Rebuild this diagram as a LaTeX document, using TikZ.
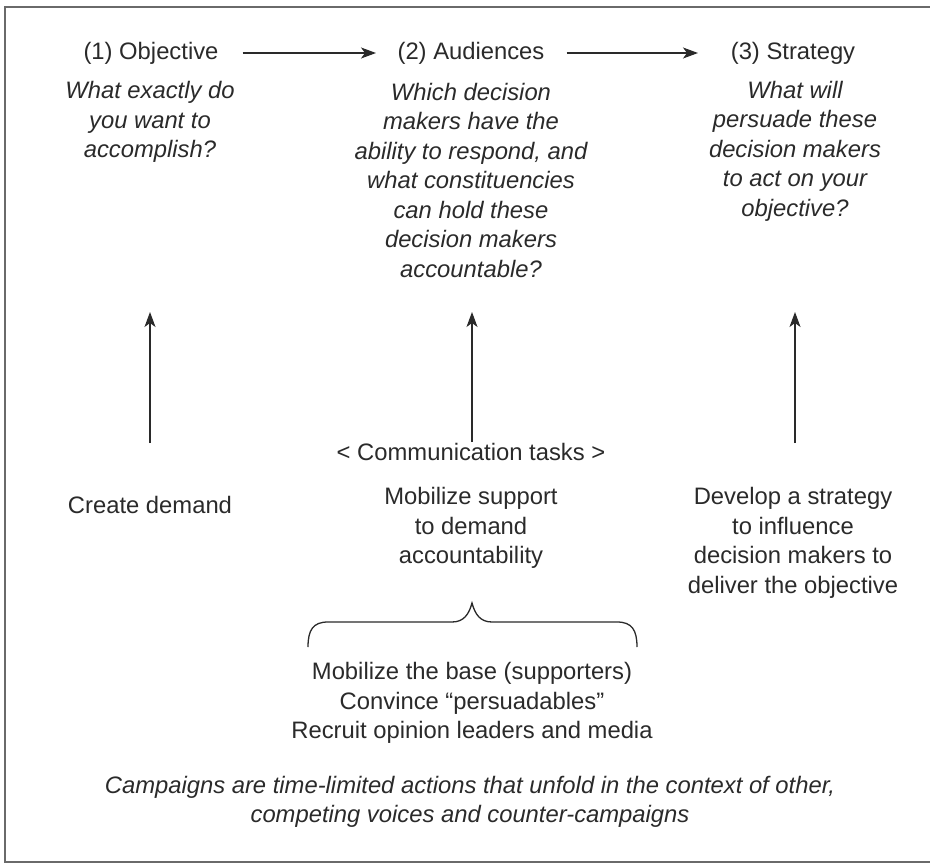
\documentclass[tikz,border=0pt]{standalone}
\usepackage{fontspec}
\setmainfont{Liberation Sans}
\usetikzlibrary{arrows.meta}
\definecolor{ink}{HTML}{2A2A2A}
\definecolor{frame}{HTML}{6A6A6A}
\begin{document}
\begin{tikzpicture}[x=1pt,y=-1pt,
  txt/.style={text=ink,align=center,inner sep=0pt,font=\fontsize{23.8}{29.5}\selectfont},
  itx/.style={txt,font=\fontsize{23.8}{29.5}\selectfont\itshape},
  arr/.style={draw=ink,line width=1.2pt,-{Stealth[length=15pt,width=11pt,inset=4pt]}}]
\useasboundingbox (0,0) rectangle (930,865);
\draw[frame,line width=1.2pt] (940,7) -- (5,7) -- (5,862) -- (940,862);
% headings
\node[txt] (h1) at (151,53) {(1) Objective};
\node[txt] (h2) at (471,53) {(2) Audiences};
\node[txt] (h3) at (793,53) {(3) Strategy};
\draw[arr] (h1.east)++(24,0) coordinate (a1s) (a1s) -- (376,53) coordinate (a1e);
\draw[arr] (h2.east)++(22,0) coordinate (a2s) (a2s) -- (698,53) coordinate (a2e);
% questions
\node[itx] (q1) at (150,122) {What exactly do\\you want to\\accomplish?};
\node[itx] (q2) at (471,180) {Which decision\\makers have the\\ability to respond, and\\what constituencies\\can hold these\\decision makers\\accountable?};
\node[itx] (q3) at (795,151) {What will\\persuade these\\decision makers\\to act on your\\objective?};
% tasks
\node[txt] (ct) at (471,452) {< Communication tasks >};
\node[txt] (t1) at (150,505) {Create demand};
\node[txt] (t2) at (471,528) {Mobilize support\\to demand\\accountability};
\node[txt] (t3) at (793,543) {Develop a strategy\\to influence\\decision makers to\\deliver the objective};
% vertical arrows
\coordinate (v1b) at (150,443); \coordinate (v1t) at (150,312);
\coordinate (v2b) at (472,442); \coordinate (v2t) at (472,312);
\coordinate (v3b) at (795,443); \coordinate (v3t) at (795,312);
\draw[arr] (v1b) -- (v1t);
\draw[arr] (v2b) -- (v2t);
\draw[arr] (v3b) -- (v3t);
% brace
\draw[ink,line width=1.3pt] (308,647) .. controls (308,630) and (313,622) .. (328,622)
  -- (452,622) .. controls (464,622) and (469,614) .. (472,603)
  .. controls (475,614) and (480,622) .. (492,622) -- (617,622)
  .. controls (632,622) and (637,630) .. (637,647);
% list
\node[txt] (l1) at (472,703) {Mobilize the base (supporters)\\Convince “persuadables”\\Recruit opinion leaders and media};
% note
\node[itx] (n1) at (470,802) {Campaigns are time-limited actions that unfold in the context of other,\\competing voices and counter-campaigns};
\end{tikzpicture}
\end{document}
